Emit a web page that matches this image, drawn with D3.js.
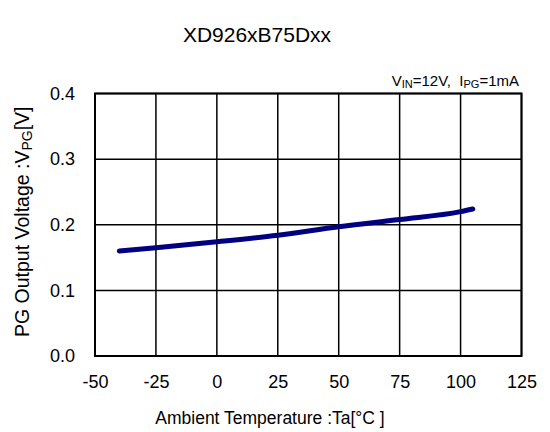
<!DOCTYPE html>
<html>
<head>
<meta charset="utf-8">
<script src="https://cdn.jsdelivr.net/npm/d3@7"></script>
<style>
  html, body { margin: 0; padding: 0; background: #fff; }
  svg { display: block; font-family: "Liberation Sans", Arial, sans-serif; }
  text { white-space: pre; }
</style>
</head>
<body>
<svg id="chart" width="550" height="432"></svg>
<script>
const temperatures = [-40, -25, 0, 25, 50, 75, 100, 105];
const voltages = [0.160, 0.165, 0.174, 0.184, 0.197, 0.208, 0.220, 0.224];
const xTicks = [-50, -25, 0, 25, 50, 75, 100, 125];
const yTicks = [0.0, 0.1, 0.2, 0.3, 0.4];
const titleText = "XD926xB75Dxx";

(function () {
const svg = d3.select("#chart");
const pL = 95, pR = 521.5, pT = 93.5, pB = 356;

const x = d3.scaleLinear().domain([-50, 125]).range([pL, pR]);
const y = d3.scaleLinear().domain([0, 0.4]).range([pB, pT]);

// gridlines
const grid = svg.append("g");
grid.selectAll("line.v").data(xTicks).enter().append("line")
  .attr("x1", d => x(d)).attr("x2", d => x(d))
  .attr("y1", pT).attr("y2", pB)
  .attr("stroke", "#000").attr("stroke-width", 1.5);
grid.selectAll("line.h").data(yTicks).enter().append("line")
  .attr("x1", pL).attr("x2", pR)
  .attr("y1", d => y(d)).attr("y2", d => y(d))
  .attr("stroke", "#000").attr("stroke-width", 1.5);

// frame
svg.append("rect").attr("x", pL).attr("y", pT)
  .attr("width", pR - pL).attr("height", pB - pT)
  .attr("fill", "none").attr("stroke", "#000").attr("stroke-width", 2);

// axes labels via d3 axes
const xAxis = d3.axisBottom(x).tickValues(xTicks).tickSize(0).tickPadding(0).tickFormat(d => String(d));
const gx = svg.append("g").attr("transform", `translate(0,${pB + 19})`).call(xAxis);
gx.select(".domain").remove();
gx.selectAll("text").attr("font-size", 18).attr("fill", "#000")
  .attr("font-family", "Liberation Sans, Arial, sans-serif").attr("dy", "0.71em");

const yAxis = d3.axisLeft(y).tickValues(yTicks).tickSize(0).tickPadding(0).tickFormat(d3.format(".1f"));
const gy = svg.append("g").attr("transform", `translate(${pL - 20},0)`).call(yAxis);
gy.select(".domain").remove();
gy.selectAll("text").attr("font-size", 18).attr("fill", "#000")
  .attr("font-family", "Liberation Sans, Arial, sans-serif");

// data line
const line = d3.line().x((d, i) => x(temperatures[i])).y(d => y(d)).curve(d3.curveMonotoneX);
svg.append("path").datum(voltages)
  .attr("d", line).attr("fill", "none")
  .attr("stroke", "#000080").attr("stroke-width", 5)
  .attr("stroke-linecap", "round").attr("stroke-linejoin", "round");

// title
svg.append("text").attr("x", 257).attr("y", 42).attr("text-anchor", "middle")
  .attr("font-size", 21).attr("fill", "#000").text(titleText);

// x label
svg.append("text").attr("x", 270).attr("y", 424).attr("text-anchor", "middle")
  .attr("font-size", 17.5).attr("fill", "#000").text("Ambient Temperature :Ta[°C ]");

// y label
const yl = svg.append("text").attr("transform", `translate(29,${(pT + pB) / 2 - 3}) rotate(-90)`)
  .attr("text-anchor", "middle").attr("font-size", 19.5).attr("fill", "#000");
yl.append("tspan").text("PG Output Voltage :V");
yl.append("tspan").attr("font-size", 14).attr("dy", 3).text("PG");
yl.append("tspan").attr("dy", -3).text("[V]");

// condition annotation
const ann = svg.append("text").attr("x", 519).attr("y", 86).attr("text-anchor", "end")
  .attr("font-size", 15).attr("fill", "#000");
ann.append("tspan").text("V");
ann.append("tspan").attr("font-size", 11).attr("dy", 2).text("IN");
ann.append("tspan").attr("dy", -2).text("=12V,  I");
ann.append("tspan").attr("font-size", 11).attr("dy", 2).text("PG");
ann.append("tspan").attr("dy", -2).text("=1mA");
})();
</script>
</body>
</html>
